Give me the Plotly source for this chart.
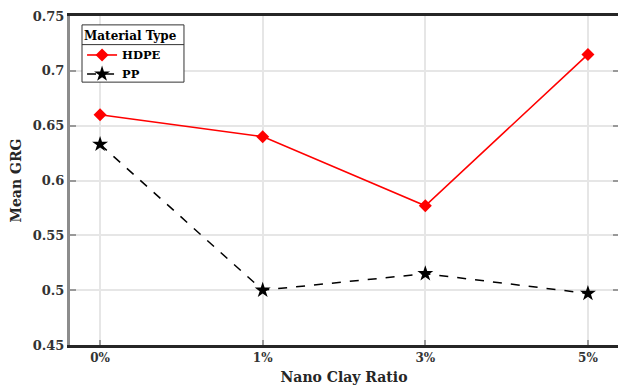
import plotly.graph_objects as go

categories = ["0%", "1%", "3%", "5%"]
hdpe = [0.660, 0.640, 0.577, 0.715]
pp = [0.633, 0.500, 0.515, 0.497]
y_ticks = [0.45, 0.5, 0.55, 0.6, 0.65, 0.7, 0.75]
y_tick_labels = ["0.45", "0.5", "0.55", "0.6", "0.65", "0.7", "0.75"]

font_family = "DejaVu Serif"

fig = go.Figure()
fig.add_trace(go.Scatter(
    x=categories, y=hdpe, name="<b>HDPE</b>", mode="lines+markers",
    line=dict(color="red", width=1.6),
    marker=dict(symbol="diamond", size=10, color="red"),
))
fig.add_trace(go.Scatter(
    x=categories, y=pp, name="<b>PP</b>", mode="lines+markers",
    line=dict(color="black", width=1.5, dash="dash"),
    marker=dict(symbol="star", size=12, color="black"),
))
# invisible trace to anchor the right-hand tick axis
fig.add_trace(go.Scatter(
    x=categories, y=pp, yaxis="y2", mode="lines", showlegend=False,
    line=dict(width=0, color="rgba(0,0,0,0)"), hoverinfo="skip",
))

fig.update_layout(
    width=618, height=388,
    margin=dict(l=70, r=0, t=16, b=43, autoexpand=False),
    paper_bgcolor="white", plot_bgcolor="white",
    font=dict(family=font_family, color="#262626"),
    legend=dict(
        title=dict(text="<b>Material Type</b>", font=dict(size=12, family=font_family, color="black")),
        x=0.022, y=0.973, xanchor="left", yanchor="top",
        borderwidth=0, bgcolor="rgba(0,0,0,0)",
        font=dict(size=11.5, family=font_family, color="black"),
        tracegroupgap=0, itemwidth=30,
    ),
    xaxis=dict(
        type="category", categoryorder="array", categoryarray=categories,
        range=[-0.185, 3.185],
        showgrid=True, gridcolor="#e6e6e6", gridwidth=2,
        showline=True, linecolor="#262626", linewidth=3, mirror=True,
        ticks="inside", ticklen=5, tickcolor="#999", tickwidth=2,
        tickvals=categories, ticktext=["<b>" + c + "</b>" for c in categories],
        tickfont=dict(size=12, family=font_family, color="#333"),
        title=dict(text="<b>Nano Clay Ratio</b>", font=dict(size=14, family=font_family, color="#262626"), standoff=8),
        zeroline=False,
    ),
    yaxis=dict(
        range=[0.45, 0.75], tickvals=y_ticks, ticktext=["<b>" + t + "</b>" for t in y_tick_labels],
        showgrid=True, gridcolor="#e6e6e6", gridwidth=2,
        showline=True, linecolor="#8c8c8c", linewidth=3, mirror=False,
        ticks="inside", ticklen=6, tickcolor="#999", tickwidth=2,
        tickfont=dict(size=13, family=font_family, color="#333"),
        title=dict(text="<b>Mean GRG</b>", font=dict(size=14, family=font_family, color="#262626"), standoff=8),
        zeroline=False,
    ),
    yaxis2=dict(
        overlaying="y", side="right", range=[0.45, 0.75], tickvals=y_ticks,
        showticklabels=False, showgrid=False, showline=False, zeroline=False,
        ticks="inside", ticklen=5, tickcolor="#999", tickwidth=2, automargin=False,
    ),
)

# legend frame and separator line beneath the legend title
fig.add_shape(type="rect", xref="paper", yref="paper",
              x0=0.0219, x1=0.2080, y0=0.799, y1=0.973,
              line=dict(color="#333", width=1), fillcolor="white", layer="above")
fig.add_shape(type="line", xref="paper", yref="paper",
              x0=0.0219, x1=0.2080, y0=0.913, y1=0.913,
              line=dict(color="#333", width=1), layer="above")

fig.write_html("out.html")
